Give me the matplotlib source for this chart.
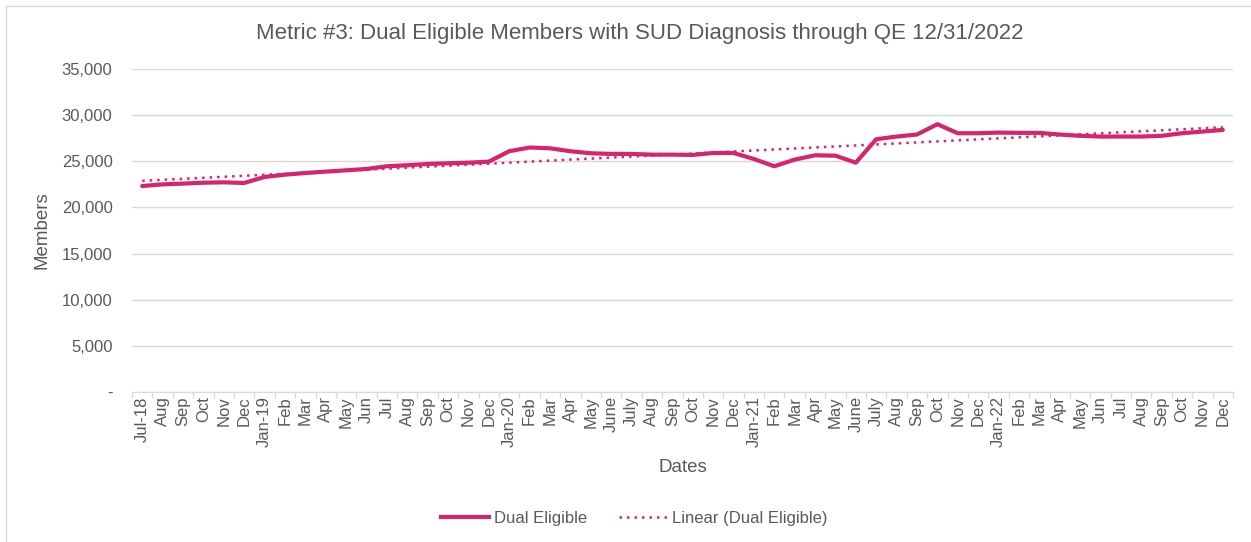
import numpy as np
import matplotlib
matplotlib.use("Agg")
import matplotlib.pyplot as plt
from matplotlib.patches import Rectangle
from matplotlib.lines import Line2D

months = ["Jul-18", "Aug", "Sep", "Oct", "Nov", "Dec",
          "Jan-19", "Feb", "Mar", "Apr", "May", "Jun", "Jul", "Aug", "Sep", "Oct", "Nov", "Dec",
          "Jan-20", "Feb", "Mar", "Apr", "May", "June", "July", "Aug", "Sep", "Oct", "Nov", "Dec",
          "Jan-21", "Feb", "Mar", "Apr", "May", "June", "July", "Aug", "Sep", "Oct", "Nov", "Dec",
          "Jan-22", "Feb", "Mar", "Apr", "May", "Jun", "Jul", "Aug", "Sep", "Oct", "Nov", "Dec"]

dual_eligible = [22320, 22500, 22580, 22680, 22720, 22650,
                 23300, 23550, 23730, 23880, 24020, 24170, 24460, 24570, 24710, 24780, 24850, 24960,
                 26090, 26490, 26410, 26090, 25870, 25800, 25800, 25720, 25720, 25690, 25900, 25900,
                 25250, 24460, 25180, 25650, 25610, 24850, 27390, 27680, 27900, 29020, 28040, 28040,
                 28110, 28080, 28080, 27900, 27760, 27680, 27680, 27680, 27760, 28040, 28220, 28400]

y_ticks = [0, 5000, 10000, 15000, 20000, 25000, 30000, 35000]
y_tick_labels = ["-", "5,000", "10,000", "15,000", "20,000", "25,000", "30,000", "35,000"]

color = "#D6246E"
text_color = "#595959"
grid_color = "#D9D9D9"

plt.rcParams['font.family'] = ['Liberation Sans', 'DejaVu Sans']

fig = plt.figure(figsize=(12.51, 5.42), dpi=100)
ax = fig.add_axes([132/1251, 1-392/542, (1233-132)/1251, (392-69)/542])

x = np.arange(len(months))
y = np.array(dual_eligible, dtype=float)
coef = np.polyfit(x, y, 1)
trend = np.polyval(coef, x)

ax.plot(x, y, color=color, lw=3, solid_capstyle='round', solid_joinstyle='round', zorder=3)
ax.plot(x, trend, color=color, lw=1.8, linestyle=(0, (1, 2)), zorder=2)

ax.set_xlim(-0.5, len(months) - 0.5)
ax.set_ylim(0, 35000)
ax.set_yticks(y_ticks)
ax.set_yticklabels(y_tick_labels, color=text_color, fontsize=12)
ax.tick_params(axis='y', length=0, pad=14)
ax.yaxis.grid(True, color=grid_color, lw=1)
ax.set_axisbelow(True)

ax.set_xticks(x)
ax.set_xticklabels(months, rotation=90, color=text_color, fontsize=12)
ax.tick_params(axis='x', length=0, pad=3)
ax.set_xticks(np.arange(-0.5, len(months) + 0.5, 1), minor=True)
ax.tick_params(axis='x', which='minor', length=4, color=grid_color, width=1)

for s in ['top', 'right', 'left']:
    ax.spines[s].set_visible(False)
ax.spines['bottom'].set_color(grid_color)

ax.set_ylabel("Members", color=text_color, fontsize=13.5)
ax.yaxis.set_label_coords(-(132-51)/1101, 0.5)
ax.set_xlabel("Dates", color=text_color, fontsize=13.5)
ax.xaxis.set_label_coords(0.5, -(459-392)/323)

fig.text(640/1251, 1-33/542, "Metric #3: Dual Eligible Members with SUD Diagnosis through QE 12/31/2022",
         ha='center', va='center', color=text_color, fontsize=16)

# outer chart border
fig.patches.append(Rectangle((6/1251, -0.05), 1.1, 1-6/542+0.05, transform=fig.transFigure,
                             fill=False, edgecolor=grid_color, lw=1))

handles = [Line2D([0], [0], color=color, lw=3),
           Line2D([0], [0], color=color, lw=1.8, linestyle=(0, (1, 2)))]
fig.legend(handles, ["Dual Eligible", "Linear (Dual Eligible)"], loc='center',
           bbox_to_anchor=(634/1251, 1-518/542), ncol=2, frameon=False,
           fontsize=12, labelcolor=text_color, handlelength=2.9, handletextpad=0.3,
           columnspacing=1.9)

fig.savefig("out.png", dpi=100)
